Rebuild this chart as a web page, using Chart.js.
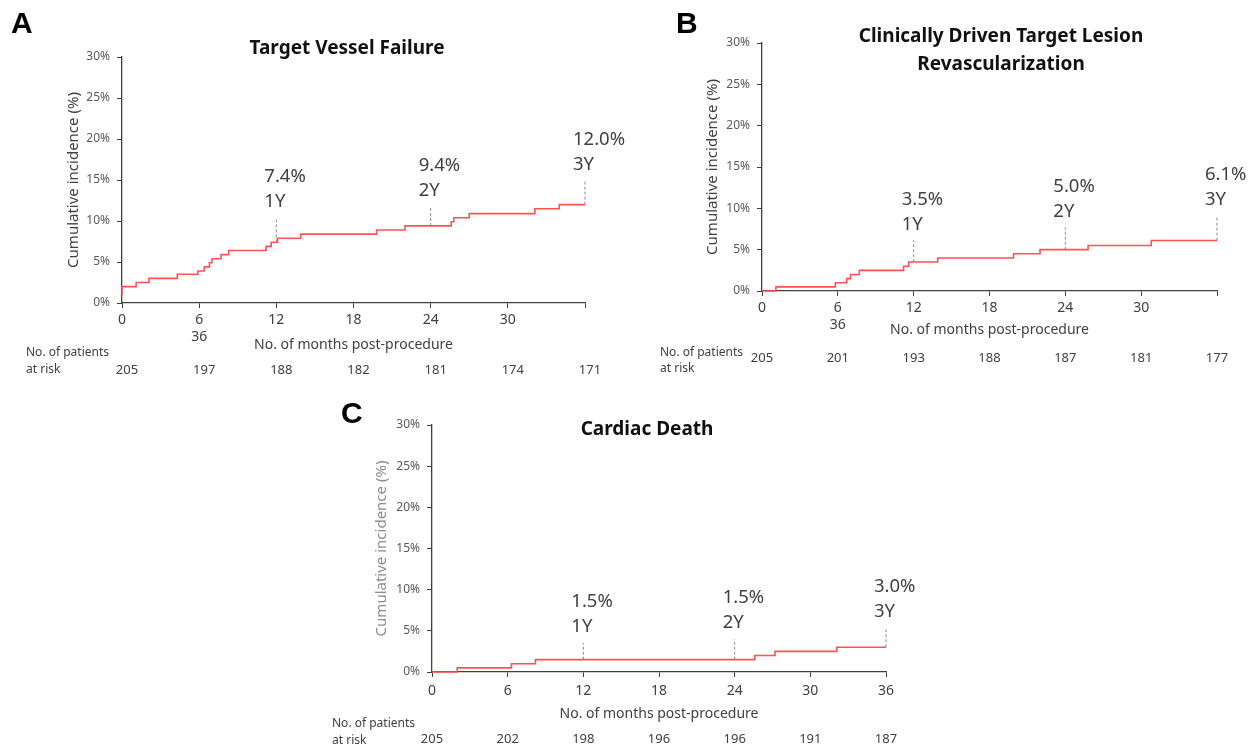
<!DOCTYPE html>
<html>
<head>
<meta charset="utf-8">
<title>Cumulative incidence</title>
<script src="https://cdn.jsdelivr.net/npm/chart.js@4.4.1/dist/chart.umd.min.js"></script>
<style>
    body { margin: 0; background: #fff; width: 1258px; height: 747px; position: relative; overflow: hidden; }
    canvas { position: absolute; }
</style>
</head>
<body>
<canvas id="panelA" width="640" height="390" style="left:0;top:0"></canvas>
<canvas id="panelB" width="618" height="390" style="left:640px;top:0"></canvas>
<canvas id="panelC" width="620" height="357" style="left:320px;top:390px"></canvas>
<script>
// shared axis stuff
const monthTicks = [0, 6, 12, 18, 24, 30, 36];
const abTickLabels = ['0', ['6', '36'], '12', '18', '24', '30', ''];
const cTickLabels = ['0', '6', '12', '18', '24', '30', '36'];
const markMonths = [12, 24, 36];
const markNames = ['1Y', '2Y', '3Y'];

// A - target vessel failure
const tvfMonths = [0, 0, 1.1, 2.1, 4.3, 5.9, 6.4, 6.8, 7.0, 7.7, 8.3, 11.2, 11.6, 12.1, 13.9, 19.8, 22.0, 25.6, 25.8, 27.0, 32.1, 34.0, 36];
const tvfRates = [1.0, 2.0, 2.5, 3.0, 3.5, 3.9, 4.4, 4.9, 5.4, 5.9, 6.4, 6.9, 7.4, 7.9, 8.4, 8.9, 9.4, 9.9, 10.4, 10.9, 11.5, 12.0, 12.0];
const tvfMarks = [7.4, 9.4, 12.0];
const tvfMarkTops = [10.4, 11.8, 14.9];
const tvfAtRisk = [205, 197, 188, 182, 181, 174, 171];

// B - clinically driven TLR
const tlrMonths = [0, 1.1, 5.8, 6.7, 7.0, 7.7, 11.2, 11.6, 13.9, 19.9, 22.0, 25.8, 30.8, 36];
const tlrRates = [0, 0.5, 1.0, 1.5, 2.0, 2.5, 3.0, 3.5, 4.0, 4.5, 5.0, 5.5, 6.1, 6.1];
const tlrMarks = [3.5, 5.0, 6.1];
const tlrMarkTops = [6.1, 7.7, 9.1];
const tlrAtRisk = [205, 201, 193, 188, 187, 181, 177];

// C - cardiac death
const cdMonths = [0, 2.0, 6.3, 8.2, 25.6, 27.2, 32.1, 36];
const cdRates = [0, 0.5, 1.0, 1.5, 2.0, 2.5, 3.0, 3.0];
const cdMarks = [1.5, 1.5, 3.0];
const cdMarkTops = [3.5, 4.0, 5.4];
const cdAtRisk = [205, 202, 198, 196, 196, 191, 187];

Chart.defaults.font.family = '"Noto Sans", "DejaVu Sans", sans-serif';
Chart.defaults.color = '#595959';

const AXIS = '#404040';

const panelText = {
    id: 'panelText',
    afterDraw(chart, args, o) {
        const {ctx, scales: {x, y}} = chart;
        ctx.save();

        // panel letter
        ctx.textBaseline = 'alphabetic';
        ctx.fillStyle = '#000';
        ctx.font = 'bold 30px "Liberation Sans", Arial, sans-serif';
        ctx.textAlign = 'left';
        ctx.fillText(o.letter, o.letterX, 33);

        // title
        ctx.textBaseline = 'middle';
        ctx.textAlign = 'center';
        ctx.font = 'bold 19px "Noto Sans", sans-serif';
        ctx.fillStyle = '#111';
        o.title.forEach((line, i) => ctx.fillText(line, o.titleX, o.titleY[i]));

        // year marks
        ctx.textAlign = 'left';
        ctx.font = '18.5px "Noto Sans", sans-serif';
        ctx.fillStyle = AXIS;
        o.marks.forEach((v, i) => {
            const px = x.getPixelForValue(markMonths[i]) - 12;
            const top = y.getPixelForValue(o.markTops[i]);
            ctx.fillText(markNames[i], px, top - 16);
            ctx.fillText(v.toFixed(1) + '%', px, top - 41);
        });

        // at risk table
        ctx.font = '12px "Noto Sans", sans-serif';
        ctx.fillText('No. of patients', o.riskX, o.riskY[0]);
        ctx.fillText('at risk', o.riskX, o.riskY[1]);
        ctx.textAlign = 'center';
        ctx.font = '13px "Noto Sans", sans-serif';
        o.atRisk.forEach((n, i) => {
            ctx.fillText(String(n), x.getPixelForValue(monthTicks[i]) + o.numShift, o.numY);
        });
        ctx.restore();
    }
};

const makePanel = (p) => {
    const markSets = p.marks.map((v, i) => ({
        data: [{x: markMonths[i], y: v}, {x: markMonths[i], y: p.markTops[i]}],
        borderColor: '#8a8a8a',
        borderWidth: 1,
        borderDash: [3, 2],
        pointRadius: 0,
        clip: false
    }));

    const config = {
        type: 'line',
        data: {
            datasets: [{
                data: p.months.map((m, i) => ({x: m, y: p.rates[i]})),
                stepped: 'before',
                borderColor: '#ff5252',
                borderWidth: 1.6,
                pointRadius: 0,
                fill: false,
                clip: false
            }, ...markSets]
        },
        options: {
            responsive: false,
            animation: false,
            devicePixelRatio: 1,
            layout: {padding: {top: p.box.top, right: p.box.right, bottom: p.box.bottom, left: 0}},
            plugins: {
                legend: {display: false},
                tooltip: {enabled: false},
                panelText: p.text
            },
            scales: {
                x: {
                    type: 'linear',
                    min: 0,
                    max: 36,
                    afterFit: (s) => { s.height = p.box.xHeight; },
                    border: {color: AXIS, width: 1.3},
                    grid: {drawOnChartArea: false, tickLength: 5, color: AXIS, tickColor: AXIS},
                    ticks: {
                        stepSize: 6,
                        padding: p.box.tickPad,
                        maxRotation: 0,
                        autoSkip: false,
                        color: '#404040',
                        font: {size: 14},
                        callback: (v) => p.tickLabels[monthTicks.indexOf(v)]
                    },
                    title: {
                        display: true,
                        text: 'No. of months post-procedure',
                        color: AXIS,
                        font: {size: 14},
                        padding: 0
                    }
                },
                y: {
                    min: 0,
                    max: 30,
                    afterFit: (s) => { s.width = p.box.yWidth; },
                    border: {color: AXIS, width: 1.3},
                    grid: {drawOnChartArea: false, tickLength: 5, color: AXIS, tickColor: AXIS},
                    ticks: {
                        stepSize: 5,
                        padding: 7,
                        color: '#595959',
                        font: {size: 12},
                        callback: (v) => v + '%'
                    },
                    title: {
                        display: true,
                        text: 'Cumulative incidence (%)',
                        color: p.yTitleColor,
                        font: {size: 15},
                        padding: {top: p.box.yTitlePad, bottom: 0}
                    }
                }
            }
        },
        plugins: [panelText]
    };

    return new Chart(document.getElementById(p.id), config);
};

makePanel({
    id: 'panelA',
    months: tvfMonths, rates: tvfRates, marks: tvfMarks, markTops: tvfMarkTops,
    tickLabels: abTickLabels,
    yTitleColor: AXIS,
    box: {top: 57, right: 55, bottom: 37, yWidth: 122, xHeight: 50, yTitlePad: 65, tickPad: 4},
    text: {
        letter: 'A', letterX: 11,
        title: ['Target Vessel Failure'], titleX: 347, titleY: [49],
        marks: tvfMarks, markTops: tvfMarkTops, atRisk: tvfAtRisk,
        riskX: 26, riskY: [353, 370], numY: 370, numShift: 5
    }
});

makePanel({
    id: 'panelB',
    months: tlrMonths, rates: tlrRates, marks: tlrMarks, markTops: tlrMarkTops,
    tickLabels: abTickLabels,
    yTitleColor: AXIS,
    box: {top: 43, right: 41, bottom: 52, yWidth: 122, xHeight: 47, yTitlePad: 64, tickPad: 4},
    text: {
        letter: 'B', letterX: 36,
        title: ['Clinically Driven Target Lesion', 'Revascularization'], titleX: 361, titleY: [37, 65],
        marks: tlrMarks, markTops: tlrMarkTops, atRisk: tlrAtRisk,
        riskX: 20, riskY: [353, 369], numY: 358, numShift: 0
    }
});

makePanel({
    id: 'panelC',
    months: cdMonths, rates: cdRates, marks: cdMarks, markTops: cdMarkTops,
    tickLabels: cTickLabels,
    yTitleColor: '#8c8c8c',
    box: {top: 35, right: 54, bottom: 25, yWidth: 112, xHeight: 50, yTitlePad: 53, tickPad: 6},
    text: {
        letter: 'C', letterX: 21,
        title: ['Cardiac Death'], titleX: 327, titleY: [40],
        marks: cdMarks, markTops: cdMarkTops, atRisk: cdAtRisk,
        riskX: 12, riskY: [334, 351], numY: 349, numShift: 0
    }
});
</script>
</body>
</html>
